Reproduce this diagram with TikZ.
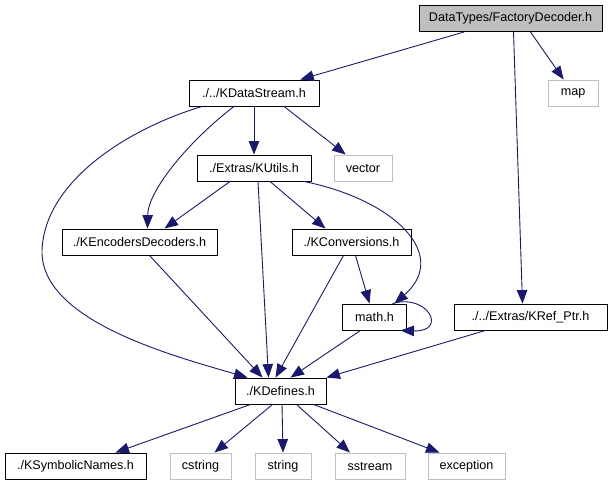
\documentclass[tikz,border=0pt]{standalone}
\usepackage{fontspec}
\setmainfont{Liberation Sans}
\usetikzlibrary{arrows.meta,calc}
\definecolor{edgeblue}{RGB}{25,25,112}
\definecolor{extgray}{RGB}{191,191,191}
\begin{document}
\begin{tikzpicture}[x=1pt,y=-1pt,
  box/.style={draw=black, fill=white, line width=0.9pt, minimum height=26, inner sep=0pt, font=\fontsize{12.6}{14}\selectfont},
  top/.style={box, fill=extgray},
  ext/.style={box, draw=extgray},
  dep/.style={draw=edgeblue, line width=0.9pt, -{Stealth[length=13.5pt,width=10.5pt,inset=0pt]}}
]
\useasboundingbox (0,0) rectangle (612,485);
\node[top, minimum width=183] (fd) at (510.5,18.5) {DataTypes/FactoryDecoder.h};
\node[ext, minimum width=50] (map) at (573,93) {map};
\node[box, minimum width=130] (kds) at (254,93) {./../KDataStream.h};
\node[ext, minimum width=58] (vector) at (363,168) {vector};
\node[box, minimum width=114] (kut) at (254,168) {./Extras/KUtils.h};
\node[box, minimum width=155] (ked) at (139.5,242) {./KEncodersDecoders.h};
\node[box, minimum width=119] (kconv) at (351.5,242) {./KConversions.h};
\node[box, minimum width=64] (math) at (374.5,317) {math.h};
\node[box, minimum width=153] (kref) at (530.5,317) {./../Extras/KRef\_Ptr.h};
\node[box, minimum width=91] (kdef) at (280.5,391) {./KDefines.h};
\node[box, minimum width=141] (ksym) at (75.5,466) {./KSymbolicNames.h};
\node[ext, minimum width=61] (cstring) at (200.5,466) {cstring};
\node[ext, minimum width=56] (string) at (283,466) {string};
\node[ext, minimum width=70] (sstream) at (370,466) {sstream};
\node[ext, minimum width=77] (exception) at (466.5,466) {exception};

\draw[dep] (fd) -- (kds);
\draw[dep] ([xshift=20]fd.south) -- (map);
\draw[dep] ([xshift=3]fd.south) -- ([xshift=-8]kref.north);

\draw[dep] ([xshift=-52]kds.south) .. controls (130,128) and (45,180) .. (42,250)
  .. controls (40,320) and (170,355) .. ([xshift=-33]kdef.north);
\draw[dep] ([xshift=-20]kds.south) .. controls (190,140) and (148,190) .. ([xshift=8]ked.north);
\draw[dep] (kds) -- (kut);
\draw[dep] ([xshift=30]kds.south) -- (vector);

\draw[dep] ([xshift=-24]kut.south) -- ([xshift=25]ked.north);
\draw[dep] ([xshift=4]kut.south) -- ([xshift=-12]kdef.north);
\draw[dep] ([xshift=16]kut.south) -- ([xshift=-26]kconv.north);
\draw[dep] ([xshift=50]kut.south) .. controls (395,200) and (450,255) .. ([xshift=20]math.north);

\draw[dep] ([xshift=10]ked.south) -- ([xshift=-18]kdef.north);
\draw[dep] ([xshift=-8]kconv.south) -- ([xshift=-5]kdef.north);
\draw[dep] ([xshift=4]kconv.south) -- ([xshift=-5]math.north);
\draw[dep] ([xshift=18]math.north) .. controls (428,293) and (448,332) .. ([xshift=26]math.south);
\draw[dep] ([xshift=-14]math.south) -- ([xshift=10]kdef.north);
\draw[dep] ([xshift=-45]kref.south) -- (kdef.north east);

\draw[dep] ([xshift=-30]kdef.south) -- ([xshift=40]ksym.north);
\draw[dep] ([xshift=-8]kdef.south) -- ([xshift=14]cstring.north);
\draw[dep] ([xshift=1.5]kdef.south) -- (string.north);
\draw[dep] ([xshift=16]kdef.south) -- ([xshift=-20]sstream.north);
\draw[dep] ([xshift=33]kdef.south) -- ([xshift=-27]exception.north);
\end{tikzpicture}
\end{document}
